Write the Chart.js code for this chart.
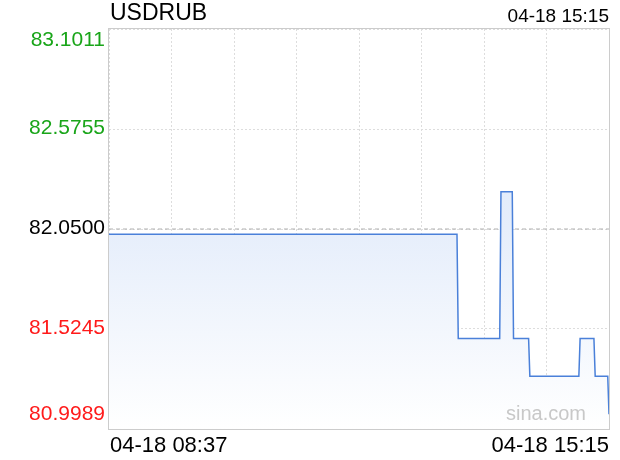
<!DOCTYPE html>
<html>
<head>
<meta charset="utf-8">
<script src="https://cdn.jsdelivr.net/npm/chart.js@4/dist/chart.umd.min.js"></script>
<style>
  html,body{margin:0;padding:0;background:#fff;}
  #wrap{width:620px;height:460px;position:relative;}
</style>
</head>
<body>
<div id="wrap"><canvas id="c" width="620" height="460"></canvas></div>
<script>
// ---- data ----
const symbol = 'USDRUB';
const dateLabel = '04-18';
const startTime = '08:37';
const endTime = '15:15';
const times  = ['08:37','13:14','13:15','13:48','13:49','13:58','13:59','14:11','14:12','14:51','14:52','15:03','15:04','15:14','15:15'];
const prices = [82.022, 82.022, 81.475, 81.475, 82.246, 82.246, 81.475, 81.475, 81.276, 81.276, 81.475, 81.475, 81.276, 81.276, 81.076];
const prevClose = 82.05;
const yTickLabels = ['83.1011','82.5755','82.0500','81.5245','80.9989'];
const yTickColors = ['#19a519','#19a519','#000000','#ff1a1a','#ff1a1a'];
const watermark = 'sina.com';

function toMin(t){ const p=t.split(':'); return (+p[0])*60 + (+p[1]); }
const t0 = toMin(startTime);
const tEnd = toMin(endTime) - t0;
const points = times.map((t,i)=>({x: toMin(t)-t0, y: prices[i]}));
const yTickValues = yTickLabels.map(Number);
const yMin = Math.min(...yTickValues), yMax = Math.max(...yTickValues);

const textPlugin = {
  id: 'texts',
  afterDraw(chart){
    const ctx = chart.ctx, a = chart.chartArea, ys = chart.scales.y;
    ctx.save();
    // frame
    ctx.strokeStyle = '#cccccc'; ctx.lineWidth = 1;
    ctx.strokeRect(Math.round(a.left)-0.5, Math.round(a.top)-0.5, Math.round(a.right-a.left)+1, Math.round(a.bottom-a.top)+1);
    // y labels
    ctx.font = '21px "Liberation Sans", Arial, sans-serif';
    ctx.textAlign = 'right';
    ctx.textBaseline = 'middle';
    yTickLabels.forEach((lab,i)=>{
      let py = ys.getPixelForValue(yTickValues[i]);
      if (i === 0) py = a.top + 11;
      else if (i === yTickLabels.length-1) py = a.bottom - 15;
      else py -= 1;
      ctx.fillStyle = yTickColors[i];
      ctx.fillText(lab, a.left - 4, py);
    });
    // title
    ctx.fillStyle = '#000';
    ctx.font = '23px "Liberation Sans", Arial, sans-serif';
    ctx.textAlign = 'left';
    ctx.fillText(symbol, a.left + 1, 14);
    ctx.font = '19px "Liberation Sans", Arial, sans-serif';
    ctx.textAlign = 'right';
    ctx.fillText(dateLabel + ' ' + endTime, a.right, 17);
    // x labels
    ctx.font = '22px "Liberation Sans", Arial, sans-serif';
    ctx.textAlign = 'left';
    ctx.fillText(dateLabel + ' ' + startTime, a.left + 1, 446);
    ctx.textAlign = 'right';
    ctx.fillText(dateLabel + ' ' + endTime, a.right, 446);
    // watermark
    ctx.fillStyle = '#c8c8c8';
    ctx.font = '20px "Liberation Sans", Arial, sans-serif';
    ctx.textAlign = 'left';
    ctx.textBaseline = 'alphabetic';
    ctx.fillText(watermark, a.right - 103, a.bottom - 9);
    ctx.restore();
  }
};

new Chart(document.getElementById('c'), {
  type: 'line',
  data: {
    datasets: [
      {
        label: symbol,
        data: points,
        borderColor: '#4a80d9',
        borderWidth: 1.5,
        pointRadius: 0,
        tension: 0,
        fill: 'start',
        backgroundColor(ctx){
          const a = ctx.chart.chartArea;
          if (!a) return 'rgba(220,231,249,0.8)';
          const g = ctx.chart.ctx.createLinearGradient(0, a.top, 0, a.bottom);
          g.addColorStop(0, '#d9e6f9');
          g.addColorStop(0.5, '#e6eefb');
          g.addColorStop(1, '#ffffff');
          return g;
        },
        order: 1
      },
      {
        label: 'prev',
        data: [{x:0, y:prevClose},{x:tEnd, y:prevClose}],
        borderColor: '#b0b0b0',
        borderWidth: 1,
        borderDash: [4,3],
        pointRadius: 0,
        fill: false,
        order: 2
      }
    ]
  },
  options: {
    responsive: false,
    animation: false,
    layout: { padding: { left: 109, top: 29, right: 11, bottom: 31 } },
    plugins: { legend: {display:false}, tooltip: {enabled:false} },
    scales: {
      x: {
        type: 'linear', min: 0, max: tEnd,
        afterBuildTicks(scale){ scale.ticks = Array.from({length:9},(_,i)=>({value: i*tEnd/8})); },
        ticks: { display: false },
        grid: { color: '#dddddd', lineWidth: 1, drawTicks: false },
        border: { display: false, dash: [2,2] }
      },
      y: {
        type: 'linear', min: yMin, max: yMax,
        afterBuildTicks(scale){ scale.ticks = yTickValues.map(v=>({value:v})); },
        ticks: { display: false },
        grid: { color: '#dddddd', lineWidth: 1, drawTicks: false },
        border: { display: false, dash: [2,2] }
      }
    }
  },
  plugins: [textPlugin]
});
</script>
</body>
</html>
